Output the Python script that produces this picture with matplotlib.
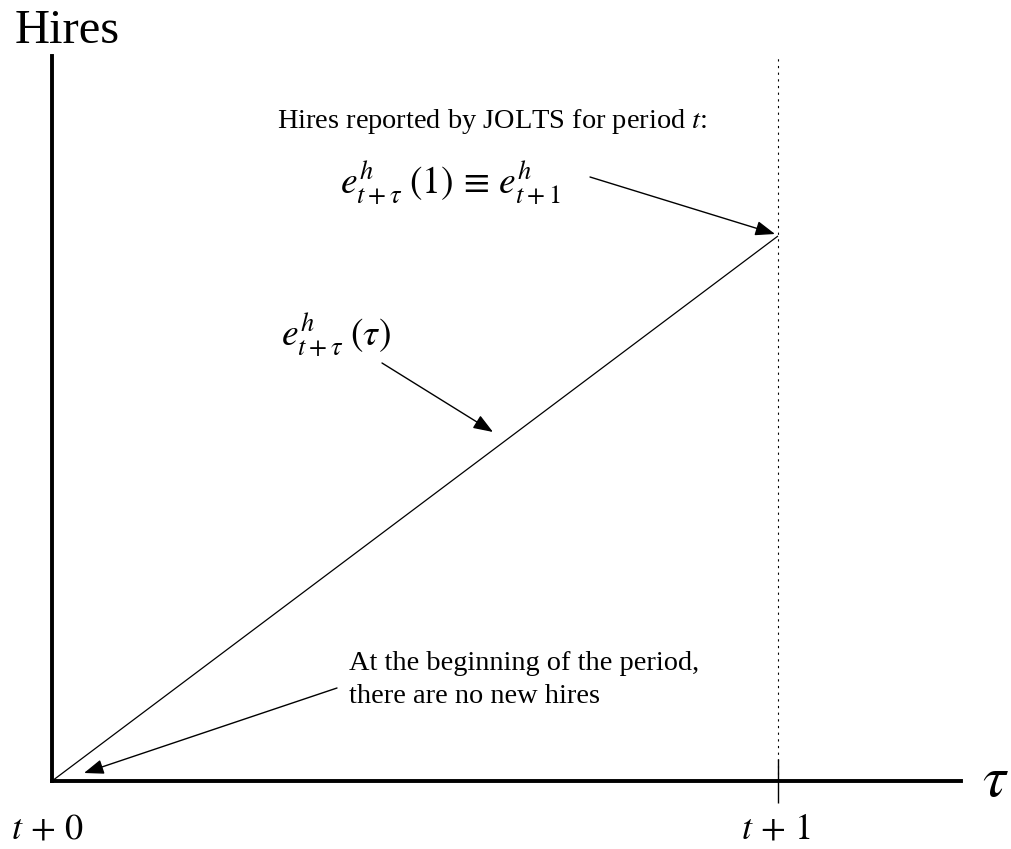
import matplotlib
matplotlib.use("Agg")
import matplotlib.pyplot as plt

plt.rcParams['font.family'] = ['Liberation Serif', 'DejaVu Serif']
plt.rcParams['mathtext.fontset'] = 'stix'

# data
tau = [0.0, 1.0]
hires = [0.0, 1.0]
xticks = [1.0]
xtick_labels = [r'$t\,+\,1$']

W, H = 1011, 849
fig = plt.figure(figsize=(W / 100, H / 100), dpi=100)
x0, y0 = 52, 781
xmax_px, ytop_px = 961, 56
sx = 726.0   # px per unit
sy = 545.0
ax = fig.add_axes([x0 / W, (H - y0) / H, (xmax_px - x0) / W, (y0 - ytop_px) / H])
ax.set_xlim(0, (xmax_px - x0) / sx)
ax.set_ylim(0, (y0 - ytop_px) / sy)
for s in ['top', 'right']:
    ax.spines[s].set_visible(False)
for s in ['left', 'bottom']:
    ax.spines[s].set_linewidth(2.8)
ax.set_yticks([])
ax.set_xticks(xticks)
ax.set_xticklabels([''])
ax.tick_params(axis='x', direction='inout', length=31, width=1)


def px(xp, yp):
    return ((xp - x0) / sx, (y0 - yp) / sy)


ax.plot(tau, hires, color='black', lw=0.9, solid_capstyle='butt')
ax.axvline(1.0, color='black', lw=0.8, ls=(0, (2, 4)))

# axis labels
ax.text(*px(15, 43), 'Hires', fontsize=35, ha='left', va='baseline', clip_on=False)
ax.text(*px(995, 782), r'$\tau$', fontsize=42, ha='center', va='center', clip_on=False)
ax.text(*px(48, 830), r'$t\,+\,0$', fontsize=26, ha='center', va='center', clip_on=False)
ax.text(*px(776, 830), xtick_labels[0], fontsize=26, ha='center', va='center', clip_on=False)

ap = dict(arrowstyle='-|>,head_length=1.2,head_width=0.45', color='black', lw=1.0,
          shrinkA=0, shrinkB=0)

ax.text(*px(277, 122), r'Hires reported by JOLTS for period $t$:', fontsize=20.4,
        ha='left', va='center')
ax.text(*px(340, 184), r'$e^{h}_{t+\tau}\;(1)\,\equiv\,e^{h}_{t+1}$', fontsize=27,
        ha='left', va='center')
ax.annotate('', xy=px(775, 234), xytext=px(590, 177), arrowprops=ap)

ax.text(*px(281, 336), r'$e^{h}_{t+\tau}\;(\tau)$', fontsize=27, ha='left', va='center')
ax.annotate('', xy=px(493, 432), xytext=px(382, 363), arrowprops=ap)

ax.text(*px(349, 680), 'At the beginning of the period,\nthere are no new hires',
        fontsize=20.4, ha='left', va='center', linespacing=1.45)
ax.annotate('', xy=px(84, 773), xytext=px(337, 688), arrowprops=ap)

fig.savefig('out.png', dpi=100)
